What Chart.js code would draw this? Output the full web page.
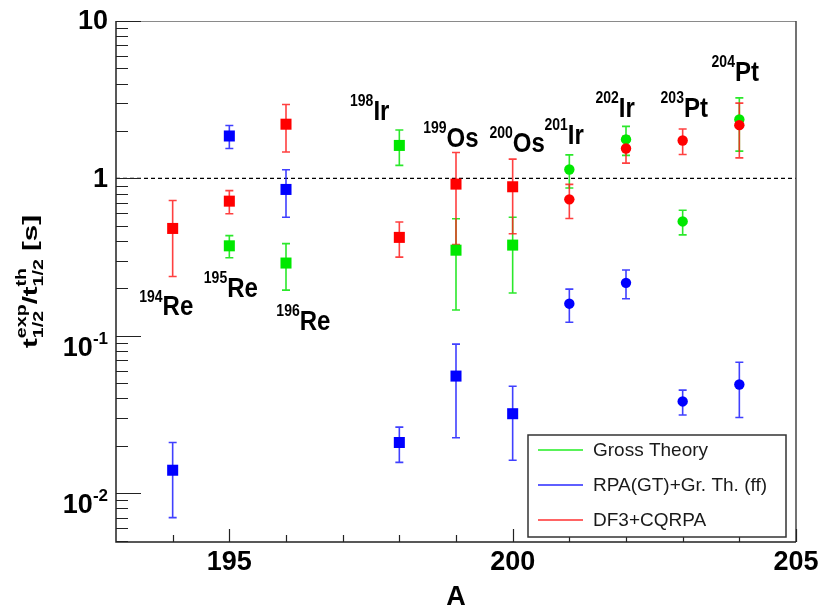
<!DOCTYPE html>
<html lang="en">
<head>
<meta charset="UTF-8">
<title>t exp / t th</title>
<script src="https://cdn.jsdelivr.net/npm/chart.js"></script>
<style>
  html, body { margin: 0; padding: 0; background: #ffffff; }
</style>
</head>
<body>
<canvas id="grafico" width="819" height="610"></canvas>
<script>
  // DADOS (razao t_exp / t_th e barras de erro simetricas)
  var massaGross = [195, 196, 198, 199, 200, 201, 202, 203, 204];
  var razaoGross = [0.373, 0.290, 1.62, 0.350, 0.377, 1.14, 1.77, 0.533, 2.37];
  var erroGross  = [0.060, 0.095, 0.41, 0.204, 0.19, 0.27, 0.37, 0.095, 0.88];

  var massaRpa = [194, 195, 196, 198, 199, 200, 201, 202, 203, 204];
  var razaoRpa = [0.0140, 1.86, 0.851, 0.0210, 0.0555, 0.0320, 0.160, 0.217, 0.0383, 0.0491];
  var erroRpa  = [0.0070, 0.31, 0.285, 0.0053, 0.033, 0.0158, 0.038, 0.045, 0.0069, 0.0188];

  var massaDf3 = [194, 195, 196, 198, 199, 200, 201, 202, 203, 204];
  var razaoDf3 = [0.481, 0.717, 2.21, 0.422, 0.92, 0.885, 0.736, 1.55, 1.74, 2.18];
  var erroDf3  = [0.243, 0.12, 0.74, 0.106, 0.54, 0.44, 0.18, 0.30, 0.32, 0.83];

  // ROTULOS DOS NUCLEOS (posicao em A e no valor do eixo y)
  var rotuloMassa = ['194', '195', '196', '198', '199', '200', '201', '202', '203', '204'];
  var rotuloElem  = ['Re', 'Re', 'Re', 'Ir', 'Os', 'Os', 'Ir', 'Ir', 'Pt', 'Pt'];
  var rotuloA     = [193.41, 194.55, 195.83, 197.13, 198.42, 199.59, 200.56, 201.46, 202.61, 203.51];
  var rotuloY     = [0.135, 0.176, 0.109, 2.35, 1.59, 1.48, 1.65, 2.46, 2.46, 4.15];

  // EIXOS
  var xTicksMaiores = [195, 200, 205];
  var xTicksMenores = [194, 196, 197, 198, 199, 201, 202, 203, 204];
  var yTicksMaiores = [10, 1, 0.1, 0.01];
  var yTickBase     = ['10', '1', '10', '10'];
  var yTickExpoente = ['', '', '-1', '-2'];

  var fonte = "'Liberation Sans', Arial, Helvetica, sans-serif";
  var corVerde = '#00e800';
  var corAzul = '#0000ff';
  var corVermelho = '#ff0000';

  function formato(massas) {
    return massas.map(a => a <= 200 ? 'rect' : 'circle');
  }
  function raio(massas) {
    return massas.map(a => a <= 200 ? 7.8 : 5.2);
  }
  function pontos(massas, valores) {
    return massas.map((a, i) => ({ x: a, y: valores[i] }));
  }

  var erros = [erroGross, erroRpa, erroDf3];
  var coresBarra = ['rgba(20,230,20,0.9)', 'rgba(30,30,255,0.85)', 'rgba(255,30,30,0.85)'];

  // escreve texto com expoente e/ou indice
  function escreve(ctx, x, y, partes) {
    var cx = x;
    partes.forEach(p => {
      ctx.font = 'bold ' + p.tam + 'px ' + fonte;
      if (p.base) {
        ctx.fillText(p.base, cx, y);
        cx += ctx.measureText(p.base).width;
      } else {
        var w1 = p.sup ? ctx.measureText(p.sup).width : 0;
        var w2 = p.sub ? ctx.measureText(p.sub).width : 0;
        if (p.sup) ctx.fillText(p.sup, cx, y - p.sobe);
        if (p.sub) ctx.fillText(p.sub, cx, y + p.desce);
        cx += Math.max(w1, w2);
      }
    });
    return cx - x;
  }

  var pluginRoot = {
    id: 'pluginRoot',
    beforeDatasetsDraw(chart) {
      var ctx = chart.ctx;
      var area = chart.chartArea;
      var xs = chart.scales.x;
      var ys = chart.scales.y;
      ctx.save();

      // linha tracejada em 1
      ctx.strokeStyle = '#000000';
      ctx.lineWidth = 1.2;
      ctx.setLineDash([4, 3]);
      ctx.beginPath();
      ctx.moveTo(area.left, ys.getPixelForValue(1));
      ctx.lineTo(area.right, ys.getPixelForValue(1));
      ctx.stroke();
      ctx.setLineDash([]);

      // barras de erro
      chart.data.datasets.forEach((ds, i) => {
        ctx.strokeStyle = coresBarra[i];
        ctx.lineWidth = 1.6;
        ds.data.forEach((p, j) => {
          var e = erros[i][j];
          var px = xs.getPixelForValue(p.x);
          var lo = p.y - e > 0 ? ys.getPixelForValue(p.y - e) : area.bottom;
          var hi = ys.getPixelForValue(p.y + e);
          ctx.beginPath();
          ctx.moveTo(px, lo); ctx.lineTo(px, hi);
          ctx.moveTo(px - 4, lo); ctx.lineTo(px + 4, lo);
          ctx.moveTo(px - 4, hi); ctx.lineTo(px + 4, hi);
          ctx.stroke();
        });
      });
      ctx.restore();
    },
    afterDraw(chart) {
      var ctx = chart.ctx;
      var area = chart.chartArea;
      var xs = chart.scales.x;
      var ys = chart.scales.y;
      ctx.save();

      // moldura
      ctx.lineWidth = 1;
      ctx.strokeStyle = '#8a8a8a';
      ctx.beginPath();
      ctx.moveTo(area.left, area.top + 0.5); ctx.lineTo(area.right, area.top + 0.5);
      ctx.stroke();
      ctx.strokeStyle = '#444444';
      ctx.lineWidth = 1.5;
      ctx.beginPath();
      ctx.moveTo(area.right, area.top); ctx.lineTo(area.right, area.bottom);
      ctx.stroke();
      ctx.strokeStyle = '#222222';
      ctx.beginPath();
      ctx.moveTo(area.left, area.top); ctx.lineTo(area.left, area.bottom); ctx.lineTo(area.right, area.bottom);
      ctx.stroke();

      // ticks do eixo y
      ctx.lineWidth = 1.2;
      ctx.beginPath();
      for (var d = -3; d <= 1; d++) {
        for (var m = 1; m <= 9; m++) {
          var v = m * Math.pow(10, d);
          if (v < ys.min || v > ys.max) continue;
          var py = Math.round(ys.getPixelForValue(v)) + 0.5;
          var len = m === 1 ? 25 : 12;
          ctx.moveTo(area.left, py); ctx.lineTo(area.left + len, py);
        }
      }
      // ticks do eixo x
      xTicksMaiores.forEach(a => {
        var px = Math.round(xs.getPixelForValue(a)) + 0.5;
        ctx.moveTo(px, area.bottom); ctx.lineTo(px, area.bottom - 13);
      });
      xTicksMenores.forEach(a => {
        var px = Math.round(xs.getPixelForValue(a)) + 0.5;
        ctx.moveTo(px, area.bottom); ctx.lineTo(px, area.bottom - 7);
      });
      ctx.stroke();

      ctx.fillStyle = '#000000';
      ctx.textBaseline = 'alphabetic';

      // rotulos do eixo y
      yTicksMaiores.forEach((v, i) => {
        var py = ys.getPixelForValue(v);
        ctx.font = 'bold 27px ' + fonte;
        var wb = ctx.measureText(yTickBase[i]).width;
        ctx.font = 'bold 17px ' + fonte;
        var we = yTickExpoente[i] ? ctx.measureText(yTickExpoente[i]).width : 0;
        var direita = area.left - 8;
        var base = yTickExpoente[i] ? py + 20 : py + 9;
        if (i === 0) base = py + 8;
        ctx.textAlign = 'left';
        ctx.font = 'bold 27px ' + fonte;
        ctx.fillText(yTickBase[i], direita - wb - we, base);
        if (yTickExpoente[i]) {
          ctx.font = 'bold 17px ' + fonte;
          ctx.fillText(yTickExpoente[i], direita - we, base - 12);
        }
      });

      // rotulos do eixo x
      ctx.textAlign = 'center';
      ctx.font = 'bold 27px ' + fonte;
      xTicksMaiores.forEach(a => {
        ctx.fillText(String(a), xs.getPixelForValue(a), 570);
      });
      ctx.fillText('A', (area.left + area.right) / 2, 605);

      // titulo do eixo y (esticado no sentido do texto, como no original)
      ctx.textAlign = 'left';
      var partesTitulo = [
        { base: 't', tam: 21 },
        { sup: 'exp', sub: '1/2', tam: 14, sobe: 11, desce: 6 },
        { base: '/t', tam: 21 },
        { sup: 'th', sub: '1/2', tam: 14, sobe: 11, desce: 6 },
        { base: ' [s]', tam: 21 }
      ];
      ctx.save();
      ctx.globalAlpha = 0;
      var larg = escreve(ctx, 0, 0, partesTitulo) * 1.4;
      ctx.restore();
      ctx.save();
      ctx.translate(37, (area.top + area.bottom) / 2 + larg / 2);
      ctx.rotate(-Math.PI / 2);
      ctx.scale(1.4, 1);
      escreve(ctx, 0, 0, partesTitulo);
      ctx.restore();

      // rotulos dos nucleos
      rotuloMassa.forEach((mss, i) => {
        var px = xs.getPixelForValue(rotuloA[i]);
        var py = ys.getPixelForValue(rotuloY[i]);
        ctx.save();
        ctx.translate(px, py);
        ctx.scale(1, 1.15);
        escreve(ctx, 0, 0, [
          { sup: mss, tam: 14, sobe: 12 },
          { base: rotuloElem[i], tam: 24 }
        ]);
        ctx.restore();
      });

      // legenda
      var lx1 = area.right - 268, lx2 = area.right - 10;
      var ly1 = area.bottom - 107, ly2 = area.bottom - 5;
      ctx.fillStyle = '#ffffff';
      ctx.fillRect(lx1, ly1, lx2 - lx1, ly2 - ly1);
      ctx.strokeStyle = '#333333';
      ctx.lineWidth = 1.5;
      ctx.strokeRect(lx1, ly1, lx2 - lx1, ly2 - ly1);
      var itens = ['Gross Theory', 'RPA(GT)+Gr. Th. (ff)', 'DF3+CQRPA'];
      var cores = ['#22ee22', '#2a2aff', '#ff3030'];
      ctx.font = '19px ' + fonte;
      ctx.textAlign = 'left';
      ctx.textBaseline = 'middle';
      itens.forEach((t, i) => {
        var yy = ly1 + 15 + i * 35;
        ctx.strokeStyle = cores[i];
        ctx.lineWidth = 1.5;
        ctx.beginPath();
        ctx.moveTo(lx1 + 10, yy); ctx.lineTo(lx1 + 55, yy);
        ctx.stroke();
        ctx.fillStyle = '#1a1a1a';
        ctx.fillText(t, lx1 + 65, yy + 1);
      });
      ctx.restore();
    }
  };

  var ctx = document.getElementById('grafico').getContext('2d');

  var config = {
    type: 'scatter',
    data: {
      datasets: [
        {
          label: 'Gross Theory',
          data: pontos(massaGross, razaoGross),
          backgroundColor: corVerde,
          borderColor: corVerde,
          pointStyle: formato(massaGross),
          pointRadius: raio(massaGross),
          borderWidth: 0,
          order: 3
        },
        {
          label: 'RPA(GT)+Gr. Th. (ff)',
          data: pontos(massaRpa, razaoRpa),
          backgroundColor: corAzul,
          borderColor: corAzul,
          pointStyle: formato(massaRpa),
          pointRadius: raio(massaRpa),
          borderWidth: 0,
          order: 2
        },
        {
          label: 'DF3+CQRPA',
          data: pontos(massaDf3, razaoDf3),
          backgroundColor: corVermelho,
          borderColor: corVermelho,
          pointStyle: formato(massaDf3),
          pointRadius: raio(massaDf3),
          borderWidth: 0,
          order: 1
        }
      ]
    },
    options: {
      responsive: false,
      animation: false,
      devicePixelRatio: 1,
      layout: { padding: { left: 116, right: 23, top: 21, bottom: 68 } },
      scales: {
        x: { type: 'linear', min: 193, max: 205, display: false },
        y: { type: 'logarithmic', min: 0.0049, max: 10, display: false }
      },
      plugins: {
        legend: { display: false },
        tooltip: { enabled: false }
      }
    },
    plugins: [pluginRoot]
  };

  new Chart(ctx, config);
</script>
</body>
</html>
